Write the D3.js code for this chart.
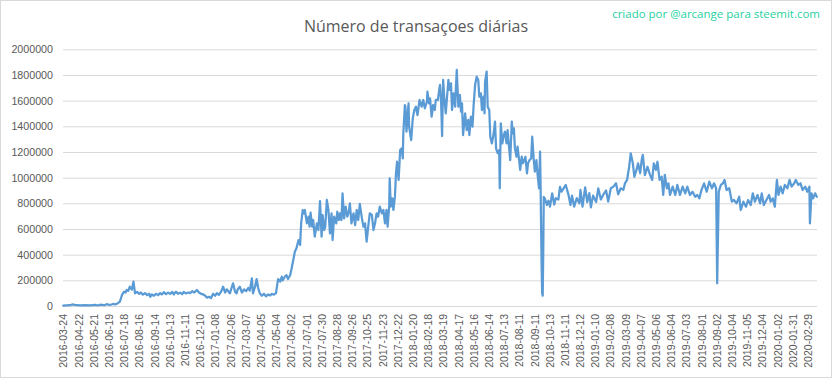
<!DOCTYPE html>
<html>
<head>
<meta charset="utf-8">
<script src="https://cdn.jsdelivr.net/npm/d3@7"></script>
<style>
  html, body { margin: 0; padding: 0; background: #fff; }
  svg { display: block; }
</style>
</head>
<body>
<div id="chart"></div>
<script>
// ---------- DATA ----------
const chartTitle = "Número de transaçoes diárias";
const watermark = "criado por @arcange para steemit.com";
const categoryCount = 1439;   // number of daily categories on the x axis
const labelStep = 29;          // one label every 29 categories
const tickLabels = [
  "2016-03-24","2016-04-22","2016-05-21","2016-06-19","2016-07-18","2016-08-16","2016-09-14","2016-10-13","2016-11-11","2016-12-10",
  "2017-01-08","2017-02-06","2017-03-07","2017-04-05","2017-05-04","2017-06-02","2017-07-01","2017-07-30","2017-08-28","2017-09-26",
  "2017-10-25","2017-11-23","2017-12-22","2018-01-20","2018-02-18","2018-03-19","2018-04-17","2018-05-16","2018-06-14","2018-07-13",
  "2018-08-11","2018-09-11","2018-10-13","2018-11-11","2018-12-12","2019-01-10","2019-02-08","2019-03-09","2019-04-07","2019-05-06",
  "2019-06-04","2019-07-03","2019-08-01","2019-09-02","2019-10-04","2019-11-05","2019-12-04","2020-01-02","2020-01-31","2020-02-29"
];
const yTicks = [0,200000,400000,600000,800000,1000000,1200000,1400000,1600000,1800000,2000000];

// category (day) index of each sampled point, 2016-03-24 = 0
const dayIndexEarly = [
  0,5,13,17,22,32,41,51,61,66,70,78,83,89,95,99,104,108,112,114,116,119,121,124,127,131,134,137,141,145,148,152,156,160,164,166,169,173,177,181,185,188,192,196,200,204,208,211,215,219,223,227,230,234,238,242,246,250,255,259,263,267,271,274,278,282,286,290,293,297,301,305,309,312,318,324,328,331,333,337,341,345,349,353,356,360,362,366,369,372,375,379,383,387,391,395,398,402,406,410,414,417,419,423,426,429,433,436,439,442
];
const transactionsEarlyK = [
  3,4,6,12,8,5,6,5,8,4,10,6,14,8,16,12,22,33,86,100,111,105,125,118,150,128,190,99,110,95,105,88,100,85,95,72,90,80,95,85,100,90,108,92,104,95,110,90,112,95,104,92,110,98,105,100,115,105,125,105,95,90,80,65,72,62,95,80,99,88,110,150,105,130,99,177,110,99,130,150,105,130,115,140,120,216,99,150,210,140,99,80,95,75,90,82,95,88,100,210,190,228,200,230,241,210,240,296,358,423
];
const dayIndexPeak = [
  445,449,452,454,457,459,461,465,468,470,
  472,475,477,480,484,487,490,493,495,498,
  500,503,506,509,512,514,517,521,523,526,
  528,531,533,536,539,542,545,547,550,554,
  557,560,563,566,570,573,576,579,582,585,
  589,592,595,598,601,604,608,611,614,617,
  619,622,623,625,628,630,633,635,637,640,
  643,646,648,649,652,653,655,659,660,664,
  667,670,673,676,680,681,684,687,690,694,
  695,698,700,703,706,709,711,715,717,719,
  721,723,725,727,730,732,735,737,740,742,
  745,748,749,751,754,757,759,761,763,767,
  770,773,775,778,781,783,786,789,792,794,
  797,799,802,804,805,808,810,813,815,818,
  821,824,826,829,832,833,835,838,840,843,
  846,848,851,853,856,858,860,862,865,867,
  870,872,875,877,880,882,885,887,890,893,
  895,898,900,903,905,908,910,911,912,913,
  914,915,916,917
];
const transactionsPeakK = [
  450,514,475,644,748,722,748,644,696,618,
  727,618,670,540,644,592,818,540,709,592,
  618,826,748,566,722,514,696,644,735,670,
  722,670,878,683,774,696,735,800,644,722,
  631,748,670,795,683,618,644,501,618,722,
  709,592,644,722,696,774,722,748,644,748,
  618,774,995,774,839,748,852,1034,1124,982,
  1215,1228,1150,1345,1566,1553,1358,1579,1397,1293,
  1462,1527,1553,1488,1605,1592,1553,1605,1540,1592,
  1670,1579,1618,1475,1566,1527,1605,1605,1670,1722,
  1605,1324,1761,1631,1501,1605,1761,1683,1735,1527,
  1657,1553,1670,1839,1553,1644,1514,1579,1332,1501,
  1371,1450,1332,1475,1397,1553,1722,1787,1761,1631,
  1657,1527,1631,1501,1748,1826,1553,1527,1319,1267,
  1332,1436,1228,1190,1215,917,1423,1267,1319,1358,
  1267,1371,1228,1137,1436,1345,1384,1228,1163,1241,
  1137,1060,1163,1112,1137,1163,1034,1112,1137,1150,
  1319,1137,1047,1137,1034,917,1202,930,600,300,
  99,80,400,850
];
const dayIndexLate = [
  919,923,926,929,933,937,940,945,948,951,954,959,964,968,971,975,980,985,987,991,996,1000,1004,1007,1011,1017,1021,1026,1031,1036,1040,1045,1050,1055,1059,1064,1069,1072,1076,1080,1083,1087,1090,1094,1097,1101,1104,1106,1110,1115,1120,1124,1127,1131,1134,1138,1142,1145,1148,1152,1155,1158,1163,1168,1172,1177,1182,1187,1191,1196,1201,1206,1210,1214,1218,1223,1228,1233,1238,1242,1246,1248,1251,1255,1259,1262,1266,1271,1276,1280,1285,1290,1293,1298,1303,1307,1312,1316,1320,1325,1330,1333,1337,1342,1347,1350,1354,1358,1362,1365,1369,1373,1377,1382,1386,1390,1395,1398,1403,1407,1411,1416,1420,1424,1425,1428,1431,1435,1438
];
const transactionsLateK = [
  839,787,820,774,878,790,840,830,929,890,910,943,870,787,860,774,840,800,904,774,925,810,880,769,860,810,917,830,870,900,813,917,930,956,870,917,905,956,982,1085,1190,1112,1007,1060,1112,1035,1140,1177,1020,1085,1020,982,1112,1060,1124,982,1007,865,1021,917,956,865,930,865,943,865,930,878,930,865,890,851,865,839,904,956,890,969,917,956,917,177,890,943,956,982,904,917,813,826,800,852,748,813,774,826,787,878,813,865,800,878,787,826,865,813,839,774,982,865,930,878,943,917,982,930,956,982,943,956,904,930,890,930,644,878,839,878,851
];

// ---------- LAYOUT ----------
const W = 833, H = 379;
const plot = { left: 63, right: 817, top: 49.3, bottom: 306 };
const textColor = "#595959", gridColor = "#d9d9d9", lineColor = "#5b9bd5";

const svg = d3.select("#chart").append("svg").attr("width", W).attr("height", H);
svg.append("rect").attr("x", 0).attr("y", 0).attr("width", W).attr("height", H).attr("fill", "#fff");
svg.append("rect").attr("x", 0.5).attr("y", 0.5).attr("width", 831).attr("height", 377)
  .attr("fill", "none").attr("stroke", gridColor);

const x = d3.scaleLinear().domain([0, categoryCount]).range([plot.left, plot.right]);
const y = d3.scaleLinear().domain([0, 2000000]).range([plot.bottom, plot.top]);

// y axis + gridlines
const yAxis = svg.append("g").attr("transform", `translate(${plot.left},0)`)
  .call(d3.axisLeft(y).tickValues(yTicks).tickFormat(d3.format("d")).tickSize(-(plot.right - plot.left)).tickPadding(10));
yAxis.select(".domain").remove();
yAxis.selectAll(".tick line").attr("stroke", gridColor).attr("stroke-width", 1);
yAxis.selectAll(".tick text").attr("fill", textColor)
  .style("font-family", "'Liberation Sans', Arial, sans-serif").style("font-size", "10.7px");

// x axis
const xAxis = svg.append("g").attr("transform", `translate(0,${plot.bottom})`)
  .call(d3.axisBottom(x).tickValues(tickLabels.map((d, k) => k * labelStep + 0.5))
    .tickFormat((d, k) => tickLabels[k]).tickSize(0));
xAxis.select(".domain").remove();
xAxis.selectAll(".tick text")
  .attr("fill", textColor)
  .style("font-family", "'Liberation Sans', Arial, sans-serif").style("font-size", "10.5px")
  .attr("transform", "rotate(-90)")
  .attr("text-anchor", "end")
  .attr("x", -8).attr("y", 0).attr("dy", "0.35em");

// line
const dayIndex = dayIndexEarly.concat(dayIndexPeak, dayIndexLate);
const transactionsK = transactionsEarlyK.concat(transactionsPeakK, transactionsLateK);
const data = dayIndex.map((d, i) => ({ i: d, v: transactionsK[i] * 1000 }));
const line = d3.line().x(d => x(d.i + 0.5)).y(d => y(d.v));
svg.append("path").datum(data).attr("d", line)
  .attr("fill", "none").attr("stroke", lineColor).attr("stroke-width", 2.25)
  .attr("stroke-linejoin", "round").attr("stroke-linecap", "round");

// title & watermark
svg.append("text").attr("x", 416).attr("y", 31.5).attr("text-anchor", "middle")
  .attr("fill", textColor).style("font-family", "'Open Sans', sans-serif").style("font-size", "16px")
  .text(chartTitle);
svg.append("text").attr("x", 820).attr("y", 18).attr("text-anchor", "end")
  .attr("fill", "#1fd19f").style("font-family", "'Open Sans', sans-serif").style("font-size", "11.5px")
  .text(watermark);
</script>
</body>
</html>
